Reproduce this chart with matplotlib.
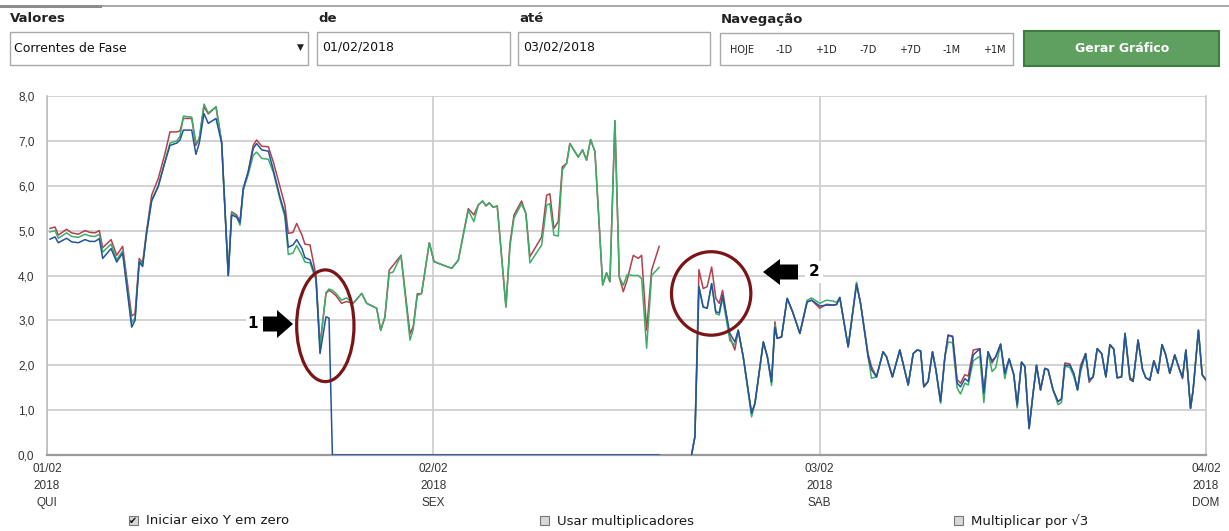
import matplotlib.pyplot as plt
import numpy as np
from matplotlib.patches import Rectangle, Ellipse, FancyArrow

# ---------------- dados (horas desde 01/02 00:00, corrente em A) ----------------
# trecho 1: as tres fases
h1 = [0.19, 0.5, 0.7, 1.22, 1.53, 1.95, 2.36, 2.67, 2.98, 3.25,
      3.46, 3.98, 4.33, 4.7, 5.26, 5.47, 5.73, 5.94, 6.19, 6.5,
      6.91, 7.33, 7.64, 8.06, 8.26, 8.47, 8.99, 9.25, 9.46, 9.75,
      10.02, 10.5, 10.85, 11.26, 11.47, 11.78, 11.99, 12.19, 12.5, 12.81,
      13.02, 13.34, 13.75, 14.06, 14.47, 14.78, 14.99, 15.28, 15.51, 15.84,
      16.02, 16.34, 16.71, 16.96, 17.33, 17.52, 17.73]
r1 = [5.05, 5.08, 4.9, 5.03, 4.95, 4.92, 5.0, 4.96, 4.95, 5.0,
      4.62, 4.8, 4.45, 4.65, 3.1, 3.15, 4.38, 4.28, 5.0, 5.79,
      6.16, 6.72, 7.2, 7.2, 7.22, 7.5, 7.5, 6.9, 7.05, 7.76,
      7.6, 7.76, 6.97, 4.0, 5.42, 5.35, 5.2, 5.9, 6.31, 6.9,
      7.02, 6.88, 6.87, 6.53, 5.98, 5.57, 4.94, 4.96, 5.16, 4.9,
      4.7, 4.68, 4.0, 2.45, 3.6, 3.67, 3.62]
g1 = [4.97, 5.0, 4.83, 4.95, 4.87, 4.85, 4.92, 4.88, 4.87, 4.92,
      4.52, 4.7, 4.35, 4.55, 2.95, 3.05, 4.33, 4.23, 4.95, 5.68,
      6.0, 6.55, 6.95, 7.0, 7.1, 7.55, 7.53, 6.95, 7.05, 7.82,
      7.62, 7.76, 6.97, 4.0, 5.4, 5.32, 5.12, 5.9, 6.25, 6.68,
      6.75, 6.61, 6.59, 6.3, 5.7, 5.3, 4.47, 4.5, 4.67, 4.45,
      4.3, 4.28, 3.9, 2.4, 3.62, 3.7, 3.67]
b1 = [4.81, 4.86, 4.73, 4.83, 4.75, 4.73, 4.8, 4.76, 4.76, 4.82,
      4.38, 4.6, 4.3, 4.5, 2.85, 3.0, 4.3, 4.2, 4.95, 5.66,
      5.98, 6.53, 6.9, 6.95, 7.02, 7.24, 7.24, 6.7, 6.95, 7.61,
      7.39, 7.5, 6.95, 4.0, 5.35, 5.3, 5.18, 5.95, 6.31, 6.83,
      6.94, 6.8, 6.77, 6.35, 5.75, 5.38, 4.63, 4.68, 4.8, 4.6,
      4.4, 4.35, 3.95, 2.26, 3.08, 3.05, 0.0]

# trecho 2: fase azul zerada, vermelha e verde continuam
h2 = [17.95, 18.3, 18.61, 19.02, 19.55, 19.86, 20.48, 20.73, 20.99, 21.26,
      21.51, 21.99, 22.55, 22.75, 23.0, 23.27, 23.75, 24.04, 24.61, 25.14,
      25.55, 26.17, 26.52, 26.79, 27.06, 27.27, 27.47, 27.72, 27.97, 28.51,
      28.76, 29.01, 29.48, 29.75, 30.0, 30.73, 31.04, 31.24, 31.49, 31.76,
      32.01, 32.28, 32.48, 33.0, 33.27, 33.52, 33.77, 34.04, 34.52, 34.76,
      34.97, 35.28, 35.55, 35.8, 36.04, 36.42, 36.73, 36.94, 37.25, 37.56,
      38.03]
r2 = [3.55, 3.38, 3.42, 3.38, 3.6, 3.38, 3.27, 2.78, 3.07, 4.12,
      4.23, 4.45, 2.7, 2.86, 3.59, 3.6, 4.73, 4.31, 4.23, 4.16,
      4.34, 5.49, 5.35, 5.57, 5.66, 5.55, 5.62, 5.52, 5.55, 3.3,
      4.71, 5.35, 5.66, 5.38, 4.42, 4.86, 5.79, 5.82, 5.05, 5.2,
      6.42, 6.5, 6.94, 6.64, 6.8, 6.57, 7.03, 6.76, 3.79, 4.06,
      3.86, 7.45, 3.97, 3.64, 3.9, 4.45, 4.38, 4.45, 2.78, 4.12,
      4.65]
g2 = [3.6, 3.45, 3.5, 3.38, 3.6, 3.38, 3.27, 2.78, 3.07, 4.05,
      4.08, 4.45, 2.56, 2.8, 3.55, 3.6, 4.73, 4.31, 4.23, 4.16,
      4.34, 5.45, 5.2, 5.57, 5.66, 5.55, 5.62, 5.52, 5.55, 3.3,
      4.65, 5.28, 5.6, 5.38, 4.28, 4.68, 5.57, 5.6, 4.9, 4.88,
      6.35, 6.5, 6.94, 6.64, 6.8, 6.57, 7.03, 6.76, 3.79, 4.06,
      3.86, 7.45, 3.97, 3.78, 4.02, 4.0, 4.0, 3.93, 2.38, 4.0,
      4.18]
h_zero = [38.03]
b_zero = [0.0]

# trecho 3: retorno das tres fases
h3 = [40.04, 40.25, 40.5, 40.76, 41.01, 41.29, 41.55, 41.76, 41.97, 42.42,
      42.73, 42.94, 43.25, 43.77, 43.98, 44.5, 44.75, 45.01, 45.22, 45.36,
      45.63, 45.98, 46.32, 46.77, 47.22, 47.5, 48.01, 48.43, 48.84, 49.05,
      49.25, 49.77, 50.29, 50.54, 51.01, 51.22, 51.53, 51.94, 52.15, 52.52,
      52.98, 53.5, 53.81, 54.06, 54.27, 54.47, 54.74, 55.01, 55.22, 55.51,
      55.78, 55.98, 56.26, 56.54, 56.75, 57.02, 57.23, 57.54, 57.95, 58.2,
      58.46, 58.71, 58.94, 59.24, 59.5, 59.77, 60.06, 60.27, 60.54, 60.75,
      61.01, 61.26, 61.47, 61.72, 61.99, 62.19, 62.5, 62.81, 63.02, 63.23,
      63.54, 63.79, 64.02, 64.21, 64.52, 64.74, 64.99, 65.24, 65.52, 65.78,
      66.03, 66.27, 66.48, 66.75, 66.97, 67.27, 67.47, 67.78, 68.06, 68.26,
      68.51, 68.76, 69.02, 69.27, 69.5, 69.75, 70.06, 70.33, 70.54, 70.75,
      71.04, 71.2, 71.53, 71.76, 72.0]
r3 = [0.0, 0.41, 4.13, 3.71, 3.75, 4.19, 3.49, 3.38, 3.67, 2.63,
      2.34, 2.78, 2.19, 0.93, 1.15, 2.52, 2.19, 1.63, 2.97, 2.6,
      2.63, 3.49, 3.19, 2.71, 3.41, 3.45, 3.27, 3.36, 3.34, 3.36,
      3.51, 2.41, 3.82, 3.38, 2.25, 1.97, 1.74, 2.3, 2.19, 1.74,
      2.34, 1.56, 2.26, 2.34, 2.32, 1.52, 1.64, 2.3, 1.9, 1.19,
      2.19, 2.67, 2.65, 1.68, 1.6, 1.79, 1.76, 2.34, 2.37, 1.38,
      2.3, 2.05, 2.19, 2.47, 1.82, 2.14, 1.79, 1.11, 2.07, 1.97,
      0.59, 1.38, 2.0, 1.45, 1.93, 1.9, 1.45, 1.19, 1.25, 2.05,
      2.03, 1.8, 1.45, 2.0, 2.26, 1.62, 1.74, 2.37, 2.26, 1.74,
      2.46, 2.36, 1.72, 1.74, 2.71, 1.68, 1.64, 2.56, 1.9, 1.72,
      1.67, 2.1, 1.82, 2.46, 2.23, 1.82, 2.23, 1.93, 1.7, 2.34,
      1.04, 1.45, 2.78, 1.79, 1.67]
g3 = [0.0, 0.41, 3.75, 3.3, 3.27, 3.82, 3.15, 3.12, 3.5, 2.55,
      2.45, 2.78, 2.19, 0.85, 1.15, 2.52, 2.19, 1.55, 2.9, 2.6,
      2.63, 3.49, 3.19, 2.71, 3.45, 3.5, 3.38, 3.45, 3.43, 3.4,
      3.51, 2.41, 3.85, 3.38, 2.19, 1.71, 1.74, 2.3, 2.19, 1.74,
      2.34, 1.56, 2.26, 2.34, 2.32, 1.52, 1.64, 2.3, 1.9, 1.15,
      2.19, 2.52, 2.5, 1.49, 1.36, 1.6, 1.56, 2.1, 2.2, 1.17,
      2.3, 1.86, 1.95, 2.47, 1.7, 2.14, 1.79, 1.05, 2.07, 1.97,
      0.59, 1.38, 2.0, 1.45, 1.93, 1.9, 1.45, 1.12, 1.17, 1.98,
      1.95, 1.75, 1.45, 1.85, 2.26, 1.66, 1.74, 2.37, 2.26, 1.74,
      2.46, 2.36, 1.72, 1.74, 2.71, 1.73, 1.64, 2.56, 1.9, 1.72,
      1.67, 2.1, 1.82, 2.46, 2.23, 1.82, 2.23, 1.93, 1.73, 2.34,
      1.04, 1.45, 2.78, 1.79, 1.67]
b3 = [0.0, 0.41, 3.75, 3.3, 3.27, 3.82, 3.19, 3.17, 3.56, 2.71,
      2.52, 2.78, 2.19, 0.93, 1.15, 2.52, 2.19, 1.63, 2.85, 2.6,
      2.63, 3.49, 3.19, 2.71, 3.41, 3.45, 3.32, 3.34, 3.34, 3.35,
      3.51, 2.41, 3.8, 3.38, 2.19, 1.9, 1.74, 2.3, 2.19, 1.74,
      2.34, 1.56, 2.26, 2.34, 2.32, 1.52, 1.64, 2.3, 1.9, 1.19,
      2.19, 2.67, 2.63, 1.6, 1.52, 1.7, 1.64, 2.23, 2.37, 1.38,
      2.3, 2.1, 2.19, 2.47, 1.82, 2.14, 1.79, 1.11, 2.07, 1.97,
      0.59, 1.38, 2.0, 1.45, 1.93, 1.9, 1.45, 1.19, 1.25, 2.0,
      2.0, 1.82, 1.45, 1.93, 2.26, 1.67, 1.74, 2.37, 2.26, 1.74,
      2.46, 2.36, 1.72, 1.74, 2.71, 1.73, 1.64, 2.56, 1.9, 1.72,
      1.67, 2.1, 1.82, 2.46, 2.23, 1.82, 2.23, 1.93, 1.73, 2.34,
      1.04, 1.45, 2.78, 1.79, 1.67]

dias = [0, 24, 48, 72]
dias_txt = ["01/02\n2018\nQUI", "02/02\n2018\nSEX", "03/02\n2018\nSAB", "04/02\n2018\nDOM"]
nav = ["HOJE", "-1D", "+1D", "-7D", "+7D", "-1M", "+1M"]

nan = [np.nan]
hora_rg = h1 + h2 + nan + h3
fase_r = r1 + r2 + nan + r3
fase_g = g1 + g2 + nan + g3
hora_b = h1 + h_zero + nan + h3
fase_b = b1 + b_zero + nan + b3

W, H = 1229, 531
fig = plt.figure(figsize=(W / 100, H / 100), dpi=100)
fig.patch.set_facecolor("white")

# ---------------- grafico ----------------
x0, x1, y0, y1 = 47, 1206, 96, 455
ax = fig.add_axes([x0 / W, 1 - y1 / H, (x1 - x0) / W, (y1 - y0) / H])
ax.set_xlim(0, 72)
ax.set_ylim(0, 8)
ax.set_yticks(range(9))
ax.set_yticklabels([f"{v:.1f}".replace(".", ",") for v in range(9)])
ax.set_xticks(dias)
ax.set_xticklabels(dias_txt, linespacing=1.55)
ax.tick_params(length=0, colors="#333333", labelsize=8.5)
ax.tick_params(axis="y", pad=9)
ax.tick_params(axis="x", pad=6)
for lb in ax.get_xticklabels() + ax.get_yticklabels():
    lb.set_fontfamily("Liberation Sans")
ax.grid(True, color="#cfcfcf", lw=1.3)
ax.set_axisbelow(True)
ax.spines["top"].set_visible(False)
ax.spines["left"].set_color("#bdbdbd")
ax.spines["right"].set_color("#cfcfcf")
ax.spines["bottom"].set_color("#9a9a9a")
ax.spines["bottom"].set_linewidth(1.6)
ax.spines["left"].set_linewidth(1.2)
ax.spines["right"].set_linewidth(1.3)

ax.plot(hora_rg, fase_r, color="#b2414d", lw=1.1, zorder=3)
ax.plot(hora_rg, fase_g, color="#3aae68", lw=1.1, zorder=4)
ax.plot(hora_b, fase_b, color="#24529e", lw=1.1, zorder=5)

ax.add_patch(Ellipse((17.29, 2.88), 3.56, 2.49, fill=False, ec="#7b1416", lw=2.3, zorder=6, clip_on=False))
ax.add_patch(Ellipse((41.26, 3.6), 4.93, 1.86, fill=False, ec="#7b1416", lw=2.3, zorder=6, clip_on=False))

# ---------------- interface ----------------
ui = fig.add_axes([0, 0, 1, 1])
ui.set_xlim(0, W)
ui.set_ylim(H, 0)
ui.axis("off")
ui.patch.set_alpha(0)

ui.plot([0, W], [6, 6], color="#a8a8a8", lw=1.4)
ui.plot([0, 100], [5.5, 5.5], color="#8c8c8c", lw=2.2)

lab = dict(fontsize=9.5, fontweight="bold", color="#222222", va="center", ha="left")
ui.text(10, 19, "Valores", **lab)
ui.text(318, 19, "de", **lab)
ui.text(519, 19, "até", **lab)
ui.text(721, 19, "Navegação", **lab)

box = dict(fill=True, fc="white", ec="#a9a9a9", lw=1.0)
ui.add_patch(Rectangle((10, 32), 298, 33, **box))
ui.add_patch(Rectangle((317, 32), 193, 33, **box))
ui.add_patch(Rectangle((518, 32), 192, 33, **box))
ui.add_patch(Rectangle((720, 33), 293, 32, **box))
ui.text(14, 48, "Correntes de Fase", fontsize=9, color="#111111", va="center")
ui.text(300, 47, "▼", fontsize=6.5, color="#222222", va="center", ha="center")
ui.text(322, 47, "01/02/2018", fontsize=9, color="#111111", va="center")
ui.text(523, 47, "03/02/2018", fontsize=9, color="#111111", va="center")
for i, t in enumerate(nav):
    ui.text(742 + i * 42, 50, t, fontsize=7, color="#222222", va="center", ha="center")

ui.add_patch(Rectangle((1024, 31), 195, 35, fc="#5f9f5f", ec="#3f7d3f", lw=1.5))
ui.text(1122, 48, "Gerar Gráfico", fontsize=9, color="white", fontweight="bold", va="center", ha="center")

# anotacoes
ui.add_patch(FancyArrow(263, 324, 30, 0, width=15, head_width=28, head_length=16,
                        length_includes_head=True, color="black", lw=0))
ui.text(253, 324, "1", fontsize=11, fontweight="bold", ha="center", va="center",
        bbox=dict(fc="white", ec="none", pad=1.5))
ui.add_patch(FancyArrow(798, 272, -35, 0, width=15, head_width=26, head_length=17,
                        length_includes_head=True, color="black", lw=0))
ui.text(814, 272, "2", fontsize=11, fontweight="bold", ha="center", va="center",
        bbox=dict(fc="white", ec="none", pad=2.5))

# caixas de selecao
chk = [(133, "Iniciar eixo Y em zero", True), (544, "Usar multiplicadores", False),
       (958, "Multiplicar por √3", False)]
for cx, txt, on in chk:
    ui.add_patch(Rectangle((cx - 4.5, 516), 9, 9, fc="#d8d8d8", ec="#777777", lw=0.8))
    if on:
        ui.text(cx, 520.5, "✔", fontsize=7, ha="center", va="center", color="#111111")
    ui.text(cx + 13, 521, txt, fontsize=9.5, va="center", color="#1a1a1a")

fig.savefig("out.png", dpi=100)
